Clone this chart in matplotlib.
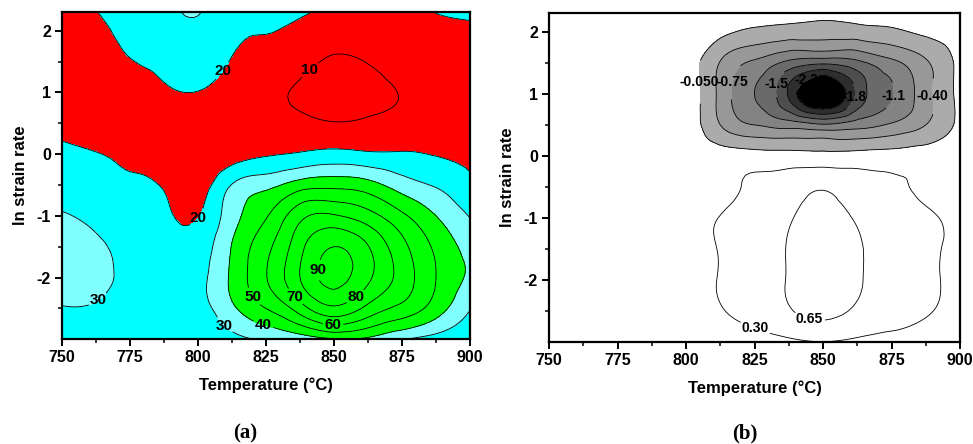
import numpy as np
import matplotlib
matplotlib.use("Agg")
import matplotlib.pyplot as plt
import matplotlib.tri as mtri
from matplotlib.ticker import MultipleLocator

plt.rcParams['font.family'] = ['Liberation Sans', 'DejaVu Sans']
plt.rcParams['font.weight'] = 'bold'
plt.rcParams['axes.unicode_minus'] = False

# ---------------- data ----------------
TEMPS = [750, 762.5, 775, 787.5, 800, 812.5, 825, 837.5, 850, 862.5, 875, 887.5, 900]
LN_RATES = [-3.0, -2.5, -2.0, -1.5, -1.0, -0.5, 0.0, 0.5, 1.0, 1.5, 2.0, 2.31]

# power dissipation efficiency (%), rows = ln strain rate (bottom -> top), cols = temperature
EFFICIENCY = [
    [27.0, 26.0, 24.0, 23.0, 24.0, 27.0, 31.0, 34.0, 39.0, 38.0, 30.5, 26.0, 24.0],
    [29.6, 29.0, 26.5, 25.0, 26.0, 38.0, 50.0, 65.0, 78.0, 67.0, 57.0, 45.0, 30.5],
    [33.0, 32.5, 28.0, 26.0, 27.0, 42.0, 59.5, 80.0, 93.0, 82.0, 66.0, 50.0, 38.5],
    [32.5, 31.5, 27.5, 25.0, 24.5, 40.5, 57.0, 77.0, 90.0, 80.5, 63.0, 48.0, 36.0],
    [30.5, 28.0, 25.0, 22.0, 19.5, 36.0, 49.0, 67.0, 71.0, 64.0, 52.0, 40.0, 29.5],
    [26.0, 24.0, 21.5, 19.0, 15.0, 30.5, 37.0, 45.0, 47.0, 44.0, 35.0, 29.0, 22.0],
    [22.0, 20.3, 18.5, 15.0, 13.0, 15.5, 19.0, 21.0, 23.0, 21.5, 21.0, 19.5, 18.5],
    [17.0, 16.0, 15.0, 14.5, 15.0, 13.0, 12.5, 11.5, 10.3, 10.8, 12.5, 15.0, 16.5],
    [14.0, 14.5, 15.0, 18.5, 19.8, 16.0, 12.0, 9.0, 7.0, 8.5, 10.3, 13.5, 16.0],
    [14.0, 15.0, 19.5, 22.5, 24.0, 19.5, 16.0, 12.5, 9.0, 10.3, 12.5, 15.0, 17.0],
    [15.0, 17.5, 23.0, 26.0, 28.0, 22.0, 20.3, 17.5, 14.0, 16.0, 16.5, 18.0, 19.0],
    [16.0, 19.8, 25.0, 27.5, 30.5, 23.0, 21.0, 21.5, 18.0, 19.0, 19.0, 20.2, 21.0],
]

# instability parameter, same grid
INSTABILITY = [
    [0.10, 0.10, 0.10, 0.10, 0.10, 0.11, 0.15, 0.22, 0.29, 0.22, 0.17, 0.12, 0.10],
    [0.12, 0.13, 0.14, 0.16, 0.19, 0.28, 0.42, 0.62, 0.73, 0.60, 0.46, 0.33, 0.20],
    [0.12, 0.14, 0.16, 0.19, 0.22, 0.315, 0.48, 0.67, 0.79, 0.68, 0.53, 0.37, 0.22],
    [0.12, 0.14, 0.16, 0.19, 0.22, 0.315, 0.49, 0.67, 0.80, 0.68, 0.55, 0.38, 0.22],
    [0.12, 0.13, 0.15, 0.18, 0.21, 0.31, 0.46, 0.62, 0.76, 0.62, 0.50, 0.36, 0.21],
    [0.10, 0.11, 0.12, 0.13, 0.16, 0.22, 0.35, 0.48, 0.62, 0.46, 0.36, 0.24, 0.15],
    [0.12, 0.12, 0.13, 0.14, 0.15, 0.13, 0.10, 0.08, 0.06, 0.08, 0.10, 0.13, 0.14],
    [0.12, 0.12, 0.13, 0.14, 0.15, -0.40, -0.75, -0.90, -1.05, -0.90, -0.70, -0.40, 0.05],
    [0.12, 0.12, 0.13, 0.14, 0.16, -0.50, -1.10, -1.85, -2.70, -1.73, -1.13, -0.53, 0.05],
    [0.12, 0.12, 0.13, 0.14, 0.14, -0.42, -0.82, -1.20, -1.38, -1.20, -0.85, -0.45, 0.06],
    [0.12, 0.12, 0.13, 0.14, 0.18, 0.05, -0.12, -0.20, -0.25, -0.20, -0.12, 0.02, 0.10],
    [0.12, 0.12, 0.13, 0.14, 0.17, 0.15, 0.12, 0.10, 0.10, 0.10, 0.12, 0.14, 0.15],
]

EFF_FILL_LEVELS = [-50, 20, 30, 40, 150]
EFF_LINE_LEVELS = [10, 20, 30, 40, 50, 60, 70, 80, 90]
EFF_LINE_TEXT = ['10', '20', '30', '40', '50', '60', '70', '80', '90']

INST_FILL_LEVELS = [-5.0, -2.15, -1.8, -1.45, -1.1, -0.75, -0.4, -0.05]
INST_LINE_LEVELS = [-2.15, -1.8, -1.45, -1.1, -0.75, -0.4, -0.05, 0.3, 0.65]
INST_LINE_TEXT = ['-2.2', '-1.8', '-1.5', '-1.1', '-0.75', '-0.40', '-0.050', '0.30', '0.65']

X_TICKS = [750, 775, 800, 825, 850, 875, 900]
Y_TICKS = [-2, -1, 0, 1, 2]

# ---------------- styling ----------------
EFF_COLORS = ['#ff0000', '#00ffff', '#80ffff', '#00ff00']
INST_COLORS = ['#000000', '#2e2e2e', '#4e4e4e', '#6a6a6a', '#838383', '#989898', '#ababab']

EFF_LABEL_POS = {
    10: [(840, 1.42)],
    20: [(806.9, 1.42), (798.6, -0.99)],
    30: [(762.5, -2.32), (810.0, -2.76)],
    40: [(824.0, -2.76)],
    50: [(820.0, -2.32)],
    60: [(849.7, -2.73)],
    70: [(835.4, -2.32)],
    80: [(858.1, -2.32)],
    90: [(844.6, -1.88)],
}
INST_LABEL_POS = {
    -0.05: [(802.5, 1.18)],
    -0.75: [(818.5, 1.18)],
    -1.45: [(831.3, 1.18)],
    -2.15: [(844.5, 1.18)],
    -1.8: [(860.5, 0.96)],
    -1.1: [(875.7, 0.96)],
    -0.4: [(890.3, 0.96)],
    0.65: [(845.5, -2.55)],
    0.3: [(824.6, -2.85)],
}

TT, YY = np.meshgrid(np.array(TEMPS, float), np.array(LN_RATES, float))
ETA = np.array(EFFICIENCY)
XI = np.array(INSTABILITY)

# smooth contouring on a refined triangulation (matplotlib.tri)
tri = mtri.Triangulation((TT.ravel() - 750) / 150.0, (YY.ravel() + 3) / 5.31)
refiner = mtri.UniformTriRefiner(tri)


def smooth(Z):
    interp = mtri.CubicTriInterpolator(tri, Z.ravel(), kind='min_E')
    rtri, rz = refiner.refine_field(Z.ravel(), triinterpolator=interp, subdiv=3)
    rtri = mtri.Triangulation(rtri.x * 150.0 + 750, rtri.y * 5.31 - 3, rtri.triangles)
    return rtri, rz


fig = plt.figure(figsize=(9.73, 4.44), dpi=100)
ax1 = fig.add_axes([62 / 973, 1 - 339 / 444, 408 / 973, 327 / 444])
ax2 = fig.add_axes([549 / 973, 1 - 342 / 444, 411 / 973, 329 / 444])


def draw_lines(ax, rt, rz, levels, texts, label_pos, fsize):
    for lev, txt in zip(levels, texts):
        cs = ax.tricontour(rt, rz, levels=[lev], colors='black', linewidths=0.6,
                           linestyles='solid')
        pos = None
        for k, v in label_pos.items():
            if abs(k - lev) < 1e-9:
                pos = v
        if pos:
            labels = cs.clabel(manual=pos, fmt={cs.levels[0]: txt}, fontsize=fsize,
                               inline=True, inline_spacing=2)
            for t in labels:
                t.set_rotation(0)
                t.set_fontweight('bold')


# panel (a)
rt_a, rz_a = smooth(ETA)
ax1.tricontourf(rt_a, rz_a, levels=EFF_FILL_LEVELS, colors=EFF_COLORS)
draw_lines(ax1, rt_a, rz_a, EFF_LINE_LEVELS, EFF_LINE_TEXT, EFF_LABEL_POS, 11)

# panel (b)
rt_b, rz_b = smooth(XI)
ax2.tricontourf(rt_b, rz_b, levels=INST_FILL_LEVELS, colors=INST_COLORS)
draw_lines(ax2, rt_b, rz_b, INST_LINE_LEVELS, INST_LINE_TEXT, INST_LABEL_POS, 10)

for ax in (ax1, ax2):
    ax.set_xlim(750, 900)
    ax.set_ylim(np.log(0.05), np.log(10))
    ax.set_xticks(X_TICKS)
    ax.set_yticks(Y_TICKS)
    ax.xaxis.set_minor_locator(MultipleLocator(12.5))
    ax.yaxis.set_minor_locator(MultipleLocator(0.5))
    ax.tick_params(which='major', direction='out', length=5, width=1.4,
                   labelsize=11.5, pad=3, top=False, right=False)
    ax.tick_params(which='minor', direction='out', length=3, width=1.1,
                   top=False, right=False)
    for lbl in ax.get_xticklabels() + ax.get_yticklabels():
        lbl.set_fontweight('bold')
    for sp in ax.spines.values():
        sp.set_linewidth(1.6)
    ax.set_xlabel('Temperature (°C)', fontsize=12, fontweight='bold', labelpad=9)
    ax.set_ylabel('ln strain rate', fontsize=12, fontweight='bold', labelpad=6)

fig.text(245 / 973, 1 - 433 / 444, '(a)', ha='center', va='center',
         fontsize=15, fontweight='bold', family=['Liberation Serif', 'DejaVu Serif'])
fig.text(745 / 973, 1 - 433 / 444, '(b)', ha='center', va='center',
         fontsize=15, fontweight='bold', family=['Liberation Serif', 'DejaVu Serif'])

fig.savefig('out.png', dpi=100)
